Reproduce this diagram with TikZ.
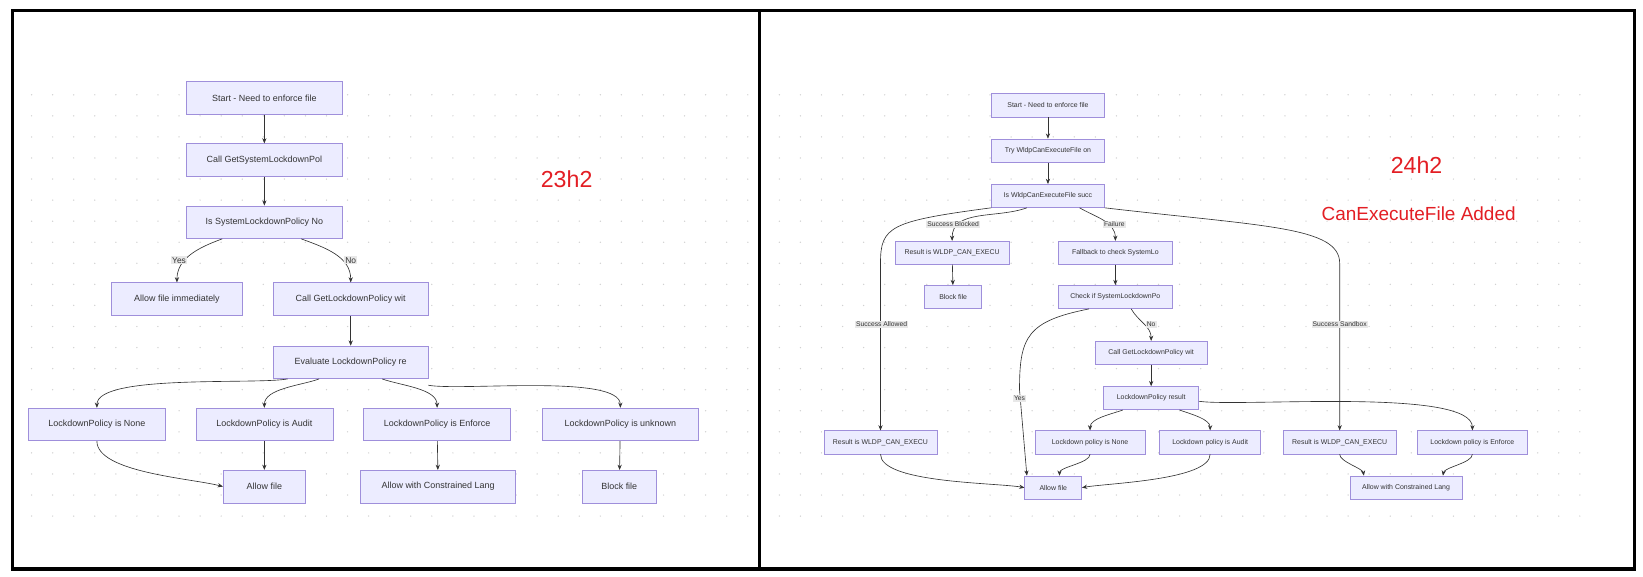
\documentclass[tikz,border=0pt]{standalone}
\usepackage{fontspec}
\setsansfont{Liberation Sans}
\usetikzlibrary{arrows.meta}
\definecolor{boxfill}{HTML}{ECECFF}
\definecolor{boxline}{HTML}{9F8FDB}
\definecolor{ink}{HTML}{333333}
\definecolor{lblbg}{HTML}{E8E8E8}
\definecolor{hred}{HTML}{E31E24}

\begin{document}
\begin{tikzpicture}[x=1pt,y=-1pt,->,>={Stealth[length=5pt,width=4pt]},
  color=ink,line width=0.6pt,
  box/.style={draw=boxline,fill=boxfill,minimum height=31,inner sep=2pt,font=\sffamily\fontsize{8.5}{9}\selectfont,text=ink},
  sbox/.style={box,minimum height=22,font=\sffamily\fontsize{6.6}{7}\selectfont},
  lbl/.style={fill=lblbg,inner sep=1pt,font=\sffamily\fontsize{8}{9}\selectfont,text=ink},
  slbl/.style={lbl,font=\sffamily\fontsize{6.4}{7}\selectfont},
  tag/.style={text=hred,font=\sffamily\fontsize{22}{24}\selectfont}]
  \fill[white] (0,0) rectangle (1560,547);
  \useasboundingbox (0,0) rectangle (1560,547);
  % dotted backdrop
  \foreach \x in {30,50,...,710} \foreach \y in {90,110,...,490}
    \fill[black!18] (\x,\y) circle (0.7);
  \foreach \x in {740,760,...,1500} \foreach \y in {90,110,...,490}
    \fill[black!18] (\x,\y) circle (0.7);
  % panels
  \draw[-,line width=3.5pt,black] (12,10) rectangle (721,540);
  \draw[-,line width=3.5pt,black] (721,10) rectangle (1552,540);

  % 23h2
  \node[box,minimum width=148] (s1) at (251,93) {Start - Need to enforce file};
  \node[box,minimum width=148] (call1) at (251,152) {Call GetSystemLockdownPol};
  \node[box,minimum width=148] (is1) at (251,211) {Is SystemLockdownPolicy No};
  \node[box,minimum width=124] (imm1) at (168,284) {Allow file immediately};
  \node[box,minimum width=147] (get1) at (333,284) {Call GetLockdownPolicy wit};
  \node[box,minimum width=147] (eval1) at (333,344) {Evaluate LockdownPolicy re};
  \node[box,minimum width=130] (none1) at (92,403) {LockdownPolicy is None};
  \node[box,minimum width=130] (audit1) at (251,403) {LockdownPolicy is Audit};
  \node[box,minimum width=140] (enf1) at (415,403) {LockdownPolicy is Enforce};
  \node[box,minimum width=148] (unk1) at (589,403) {LockdownPolicy is unknown};
  \node[box,minimum width=78] (allow1) at (251,462) {Allow file};
  \node[box,minimum width=147] (clm1) at (416,462) {Allow with Constrained Lang};
  \node[box,minimum width=70] (block1) at (588,462) {Block file};
  \node[tag] (t1) at (538,170) {23h2};

  \draw (s1) -- (call1);
  \draw (call1) -- (is1);
  \draw ([xshift=-40]is1.south) to[out=200,in=90] (imm1.north);
  \draw ([xshift=35]is1.south) to[out=-20,in=90] (get1.north);
  \node[lbl] (yes1) at (170,247) {Yes};
  \node[lbl] (no1) at (333,247) {No};
  \draw (get1) -- (eval1);
  \draw ([xshift=-60]eval1.south) to[out=190,in=90,looseness=0.45] (none1.north);
  \draw ([xshift=-30]eval1.south) to[out=200,in=90,looseness=0.8] (audit1.north);
  \draw ([xshift=30]eval1.south) to[out=-20,in=90,looseness=0.8] (enf1.north);
  \draw ([yshift=-6]eval1.south east) to[out=-10,in=90,looseness=0.45] (unk1.north);
  \draw (none1.south) to[out=-90,in=165,looseness=0.6] (allow1.west);
  \draw (audit1) -- (allow1);
  \draw (enf1) -- (clm1);
  \draw (unk1) -- (block1);

  % 24h2
  \node[sbox,minimum width=107] (s2) at (995,100) {Start - Need to enforce file};
  \node[sbox,minimum width=107] (try2) at (995,143) {Try WldpCanExecuteFile on};
  \node[sbox,minimum width=107] (is2) at (995,186) {Is WldpCanExecuteFile succ};
  \node[sbox,minimum width=108] (rblk2) at (904,240) {Result is WLDP\_CAN\_EXECU};
  \node[sbox,minimum width=108] (fb2) at (1059,240) {Fallback to check SystemLo};
  \node[sbox,minimum width=54] (block2) at (905,282) {Block file};
  \node[sbox,minimum width=108] (chk2) at (1059,282) {Check if SystemLockdownPo};
  \node[sbox,minimum width=106] (get2) at (1093,335) {Call GetLockdownPolicy wit};
  \node[sbox,minimum width=90] (res2) at (1093,378) {LockdownPolicy result};
  \node[sbox,minimum width=107] (ralw2) at (836,420) {Result is WLDP\_CAN\_EXECU};
  \node[sbox,minimum width=104] (none2) at (1035,420) {Lockdown policy is None};
  \node[sbox,minimum width=96] (audit2) at (1149,420) {Lockdown policy is Audit};
  \node[sbox,minimum width=107] (rsbx2) at (1272,420) {Result is WLDP\_CAN\_EXECU};
  \node[sbox,minimum width=104] (enf2) at (1398,420) {Lockdown policy is Enforce};
  \node[sbox,minimum width=54] (allow2) at (1000,463) {Allow file};
  \node[sbox,minimum width=106] (clm2) at (1335,463) {Allow with Constrained Lang};
  \node[tag] (t2) at (1345,157) {24h2};
  \node[tag,font=\sffamily\fontsize{18}{20}\selectfont] (t3) at (1347,203) {CanExecuteFile Added};

  \draw (s2) -- (try2);
  \draw (try2) -- (is2);
  \draw ([xshift=-20]is2.south) to[out=200,in=90] (rblk2.north);
  \draw ([xshift=30]is2.south) to[out=-30,in=90] (fb2.north);
  \draw (is2.south west) .. controls (845,210) and (836,215) .. (836,250) -- (ralw2.north);
  \draw (is2.south east) .. controls (1200,215) and (1272,215) .. (1272,250) -- (rsbx2.north);
  \node[slbl] (sb2) at (905,213) {Success Blocked};
  \node[slbl] (fl2) at (1058,213) {Failure};
  \node[slbl] (sa2) at (837,308) {Success Allowed};
  \node[slbl] (ss2) at (1272,308) {Success Sandbox};
  \draw (rblk2) -- (block2);
  \draw (fb2) -- (chk2);
  \draw ([xshift=-25]chk2.south) .. controls (975,305) and (968,320) .. (968,370) -- ([xshift=-25]allow2.north);
  \draw ([xshift=15]chk2.south) to[out=-60,in=90] (get2.north);
  \node[slbl] (yes2) at (968,378) {Yes};
  \node[slbl] (no2) at (1093,308) {No};
  \draw (get2) -- (res2);
  \draw ([xshift=-27]res2.south) to[out=200,in=90,looseness=0.8] (none2.north);
  \draw ([xshift=27]res2.south) to[out=-20,in=90,looseness=0.8] (audit2.north);
  \draw ([yshift=-3]res2.east) to[out=-8,in=90,looseness=0.4] (enf2.north);
  \draw (ralw2.south) to[out=-90,in=170,looseness=0.5] (allow2.west);
  \draw (none2.south) to[out=-90,in=90,looseness=0.6] ([xshift=6]allow2.north);
  \draw (audit2.south) to[out=-90,in=10,looseness=0.5] (allow2.east);
  \draw (rsbx2.south) to[out=-90,in=100,looseness=0.6] ([xshift=-40]clm2.north);
  \draw (enf2.south) to[out=-90,in=80,looseness=0.6] ([xshift=35]clm2.north);
\end{tikzpicture}
\end{document}
